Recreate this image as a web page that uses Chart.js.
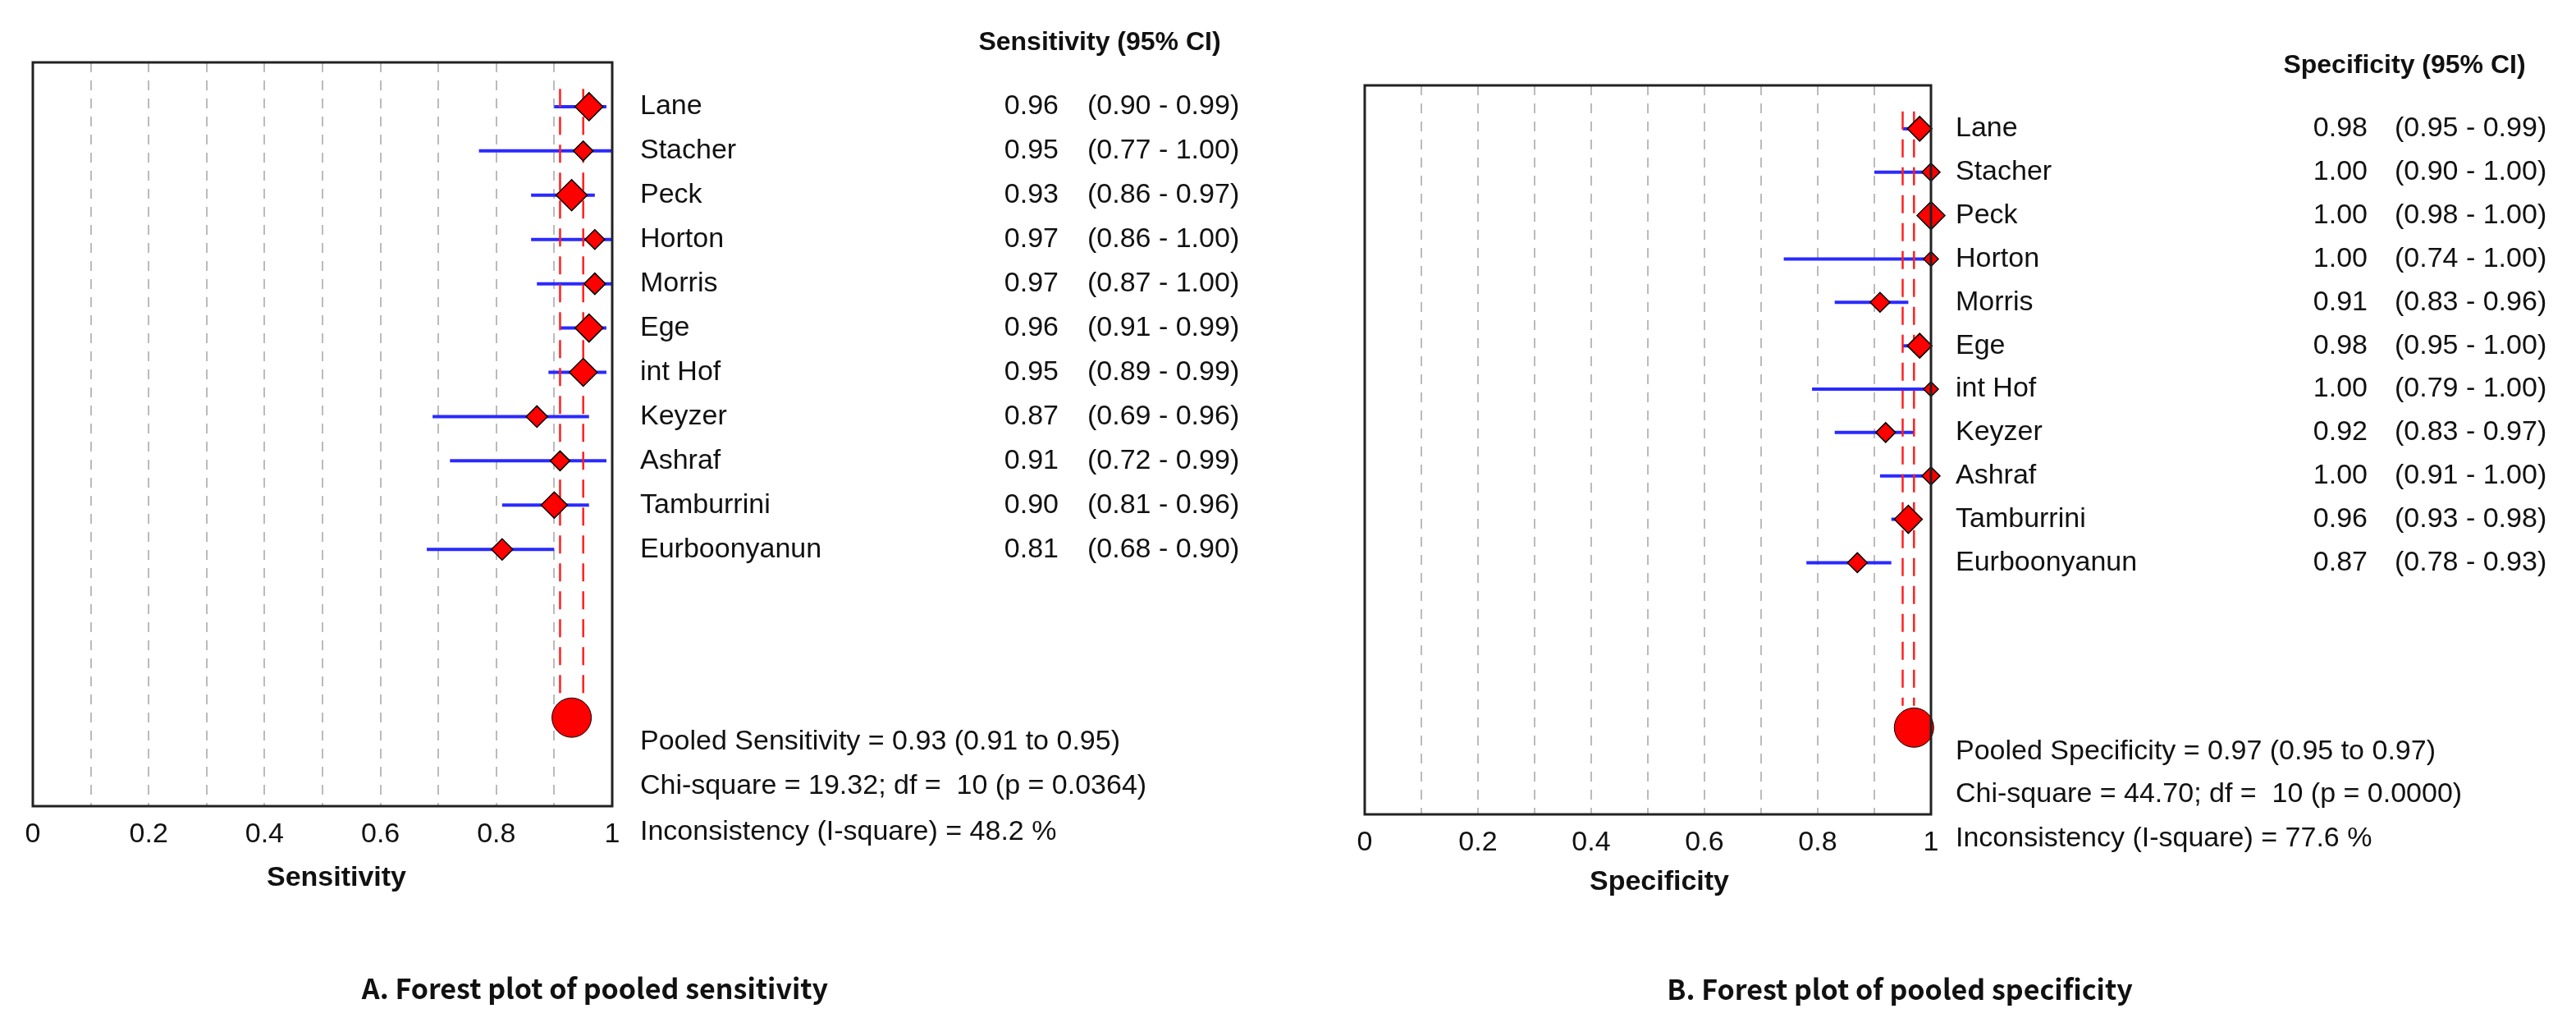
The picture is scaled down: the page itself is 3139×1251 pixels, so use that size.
<!DOCTYPE html>
<html>
<head>
<meta charset="utf-8">
<title>Forest plots</title>
<script src="https://cdn.jsdelivr.net/npm/chart.js@4.4.1/dist/chart.umd.min.js"></script>
<style>
  body { margin: 0; background: #fff; }
  .panel { position: absolute; top: 0; width: 1569px; height: 1251px; }
</style>
</head>
<body>
<div class="panel" style="left:0"><canvas id="sens"></canvas></div>
<div class="panel" style="left:1570px"><canvas id="spec"></canvas></div>
<script>
const studies = ['Lane', 'Stacher', 'Peck', 'Horton', 'Morris', 'Ege', 'int Hof', 'Keyzer', 'Ashraf', 'Tamburrini', 'Eurboonyanun'];

const sensEst = [0.96, 0.95, 0.93, 0.97, 0.97, 0.96, 0.95, 0.87, 0.91, 0.90, 0.81];
const sensLo  = [0.90, 0.77, 0.86, 0.86, 0.87, 0.91, 0.89, 0.69, 0.72, 0.81, 0.68];
const sensHi  = [0.99, 1.00, 0.97, 1.00, 1.00, 0.99, 0.99, 0.96, 0.99, 0.96, 0.90];
const sensSize = [17, 12, 19, 12, 13, 17, 17, 13, 12, 16, 13];
const sensPooled = [0.93, 0.91, 0.95];
const sensStats = ['Pooled Sensitivity = 0.93 (0.91 to 0.95)', 'Chi-square = 19.32; df =  10 (p = 0.0364)', 'Inconsistency (I-square) = 48.2 %'];

const specEst = [0.98, 1.00, 1.00, 1.00, 0.91, 0.98, 1.00, 0.92, 1.00, 0.96, 0.87];
const specLo  = [0.95, 0.90, 0.98, 0.74, 0.83, 0.95, 0.79, 0.83, 0.91, 0.93, 0.78];
const specHi  = [0.99, 1.00, 1.00, 1.00, 0.96, 1.00, 1.00, 0.97, 1.00, 0.98, 0.93];
const specSize = [15, 11, 17, 9, 12, 15, 9, 12, 11, 17, 12];
const specPooled = [0.97, 0.95, 0.97];
const specStats = ['Pooled Specificity = 0.97 (0.95 to 0.97)', 'Chi-square = 44.70; df =  10 (p = 0.0000)', 'Inconsistency (I-square) = 77.6 %'];

const xTicks = [0, 0.2, 0.4, 0.6, 0.8, 1];
const pooledRow = 14.8;

const SANS = '"Liberation Sans", Arial, sans-serif';

function makeChart(id, o) {
  const datasets = [];
  // confidence intervals
  studies.forEach((s, i) => {
    datasets.push({
      type: 'line', data: [{x: o.lo[i], y: i + 1}, {x: o.hi[i], y: i + 1}],
      borderColor: '#2a2aff', borderWidth: 4, pointRadius: 0, order: 3, clip: false
    });
  });
  // pooled CI dashed lines
  [o.pooled[1], o.pooled[2]].forEach(v => {
    datasets.push({
      type: 'line', data: [{x: v, y: 0.6}, {x: v, y: pooledRow - 0.5}],
      borderColor: '#ff2020', borderWidth: 2.5, borderDash: [22, 12], pointRadius: 0, order: 2
    });
  });
  // study estimates
  datasets.push({
    type: 'scatter', data: o.est.map((v, i) => ({x: v, y: i + 1})),
    pointStyle: 'rectRot', pointRadius: o.size, backgroundColor: '#ff0000',
    borderColor: '#000', borderWidth: 1.5, order: 1, clip: false
  });
  // pooled estimate
  datasets.push({
    type: 'scatter', data: [{x: o.pooled[0], y: pooledRow}],
    pointStyle: 'circle', pointRadius: 24, backgroundColor: '#ff0000',
    borderColor: '#000', borderWidth: 1, order: 0, clip: false
  });

  const textPlugin = {
    id: 'forestText',
    afterDraw(chart) {
      const ctx = chart.ctx, a = chart.chartArea, y = chart.scales.y;
      ctx.save();
      ctx.strokeStyle = '#222'; ctx.lineWidth = 3;
      ctx.strokeRect(a.left, a.top, a.right - a.left, a.bottom - a.top);
      ctx.fillStyle = '#111';
      ctx.textBaseline = 'middle';
      ctx.font = '34px ' + SANS;
      studies.forEach((s, i) => {
        const py = y.getPixelForValue(i + 1);
        ctx.textAlign = 'left';
        ctx.fillText(s, o.nameX, py);
        ctx.textAlign = 'right';
        ctx.fillText(o.est[i].toFixed(2), o.estX, py);
        ctx.textAlign = 'left';
        ctx.fillText('(' + o.lo[i].toFixed(2) + ' - ' + o.hi[i].toFixed(2) + ')', o.ciX, py);
      });
      ctx.textAlign = 'left';
      o.stats.forEach((t, k) => ctx.fillText(t, o.nameX, o.statY[k]));
      ctx.font = 'bold 32px ' + SANS;
      ctx.textAlign = 'center';
      ctx.fillText(o.head, o.headX, o.headY);
      ctx.font = 'bold 34px ' + SANS;
      ctx.fillText(o.axisTitle, o.axisX, o.axisY);
      ctx.font = 'bold 34px "Noto Sans CJK KR", "Noto Sans", sans-serif';
      ctx.fillText(o.caption, o.capX, o.capY);
      ctx.restore();
    }
  };

  return new Chart(id, {
    data: { datasets },
    options: {
      responsive: true, maintainAspectRatio: false, animation: false,
      layout: { padding: { left: o.box[0], right: 1569 - o.box[1], top: o.box[2], bottom: 0 } },
      plugins: { legend: { display: false }, tooltip: { enabled: false } },
      scales: {
        x: {
          type: 'linear', min: 0, max: 1,
          afterBuildTicks(s) { s.ticks = []; for (let k = 0; k <= 10; k++) s.ticks.push({value: k / 10}); },
          afterFit(s) { s.height = 1251 - o.box[3]; },
          grid: { color: '#bbb', lineWidth: 2, tickLength: 0, drawTicks: false },
          border: { display: false, dash: [12, 10] },
          ticks: {
            padding: 14, color: '#111', font: { family: SANS, size: 34 },
            maxRotation: 0, autoSkip: false,
            callback: v => xTicks.some(t => Math.abs(t - v) < 1e-6) ? String(+v.toFixed(1)) : ''
          }
        },
        y: { type: 'linear', min: 0, max: 16.8, reverse: true, display: false }
      }
    },
    plugins: [textPlugin]
  });
}

makeChart('sens', {
  est: sensEst, lo: sensLo, hi: sensHi, size: sensSize, pooled: sensPooled, stats: sensStats,
  box: [40, 746, 76, 982], nameX: 780, estX: 1290, ciX: 1325, statY: [904, 958, 1014],
  head: 'Sensitivity (95% CI)', headX: 1340, headY: 52,
  axisTitle: 'Sensitivity', axisX: 410, axisY: 1070,
  caption: 'A. Forest plot of pooled sensitivity', capX: 725, capY: 1204
});

makeChart('spec', {
  est: specEst, lo: specLo, hi: specHi, size: specSize, pooled: specPooled, stats: specStats,
  box: [93, 783, 104, 992], nameX: 813, estX: 1315, ciX: 1348, statY: [916, 968, 1022],
  head: 'Specificity (95% CI)', headX: 1360, headY: 80,
  axisTitle: 'Specificity', axisX: 452, axisY: 1075,
  caption: 'B. Forest plot of pooled specificity', capX: 745, capY: 1205
});
</script>
</body>
</html>
